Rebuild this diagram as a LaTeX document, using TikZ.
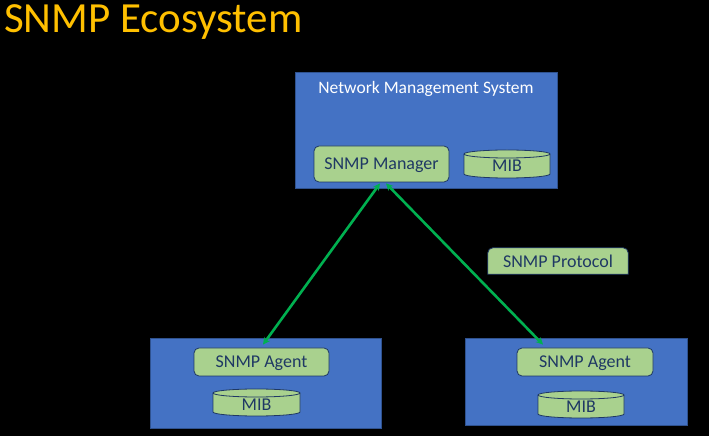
\documentclass[tikz,border=0pt]{standalone}
\usepackage{fontspec}
\setmainfont{Carlito}
\usetikzlibrary{arrows.meta,calc}
\definecolor{bluebox}{HTML}{4472C4}
\definecolor{blueedge}{HTML}{2F528F}
\definecolor{greenbox}{HTML}{A9D18E}
\definecolor{navytext}{HTML}{1F3864}
\definecolor{arrowgreen}{HTML}{00B050}
\definecolor{titlegold}{HTML}{FFC000}
\tikzset{
  sysbox/.style={draw=blueedge, line width=0.8pt, fill=bluebox, inner sep=0pt},
  greenrnd/.style={draw=navytext, line width=0.8pt, fill=greenbox, rounded corners=5pt,
    text=navytext, font=\fontsize{18}{21}\selectfont, inner sep=0pt, text depth=0pt},
  mibtext/.style={text=navytext, font=\fontsize{18}{21}\selectfont, inner sep=0pt, text depth=0pt},
  mibdraw/.style={draw=navytext, line width=0.8pt, fill=greenbox},
  link/.style={draw=arrowgreen, line width=2.6pt,
    {Stealth[length=7pt,width=7pt]}-{Stealth[length=7pt,width=7pt]}}
}
\newcommand{\mibcyl}[3]{% node name, half width, half height
  \path[mibdraw] ($(#1)+(-#2,#3-4)$) -- ($(#1)+(-#2,-#3+4)$)
    arc[start angle=180,end angle=360,x radius=#2,y radius=4]
    -- ($(#1)+(#2,#3-4)$)
    arc[start angle=0,end angle=180,x radius=#2,y radius=4] -- cycle;
  \draw[navytext, line width=0.8pt] ($(#1)+(-#2,#3-4)$)
    arc[start angle=180,end angle=360,x radius=#2,y radius=4];
}
\begin{document}
\begin{tikzpicture}[x=1pt,y=1pt]
\fill[black] (0,0) rectangle (709,436);
\useasboundingbox (0,0) rectangle (709,436);

\node[anchor=base west, text=titlegold, font=\fontsize{43}{48}\selectfont, inner sep=0pt]
  (title) at (4,403) {SNMP Ecosystem};

% Network management system
\node[sysbox, minimum width=262pt, minimum height=116pt] (nms) at (426,306) {};
\node[text=white, font=\fontsize{17.5}{20}\selectfont, inner sep=0pt, text depth=0pt] (nmslbl) at (426,349) {Network Management System};
\node[greenrnd, minimum width=135pt, minimum height=36pt] (mgr) at (381.5,272) {SNMP Manager};
\coordinate (mib1c) at (507,272);
\mibcyl{mib1c}{43}{14}
\node[mibtext] (mib1) at (507,270) {MIB};

% Left agent
\node[sysbox, minimum width=231pt, minimum height=90pt] (boxL) at (265.5,53) {};
\node[greenrnd, minimum width=135pt, minimum height=28pt] (ag1) at (261.5,74) {SNMP Agent};
\coordinate (mib2c) at (256.5,33.5);
\mibcyl{mib2c}{43.5}{13.5}
\node[mibtext] (mib2) at (256.5,31.5) {MIB};

% Right agent
\node[sysbox, minimum width=222pt, minimum height=87pt] (boxR) at (576,54.5) {};
\node[greenrnd, minimum width=136pt, minimum height=28pt] (ag2) at (585,74) {SNMP Agent};
\coordinate (mib3c) at (581,31.5);
\mibcyl{mib3c}{43}{13.5}
\node[mibtext] (mib3) at (581,29.5) {MIB};

% Protocol label (rounded top corners only)
\node[inner sep=0pt, minimum width=140pt, minimum height=26pt] (proto) at (558,175) {};
\draw[navytext, line width=0.8pt, fill=greenbox]
  (proto.south west) [rounded corners=5pt] -- (proto.north west) -- (proto.north east)
  [sharp corners] -- (proto.south east) -- cycle;
\node[text=navytext, font=\fontsize{18}{21}\selectfont, inner sep=0pt, text depth=0pt] (protolbl) at (proto.center) {SNMP Protocol};

% Links
\draw[link] ([xshift=-1.5pt,yshift=-1pt]mgr.south) -- ([xshift=1.5pt,yshift=3pt]ag1.north);
\draw[link] ([xshift=4.5pt,yshift=-1pt]mgr.south) -- ([xshift=-42pt,yshift=3pt]ag2.north);
\end{tikzpicture}
\end{document}
